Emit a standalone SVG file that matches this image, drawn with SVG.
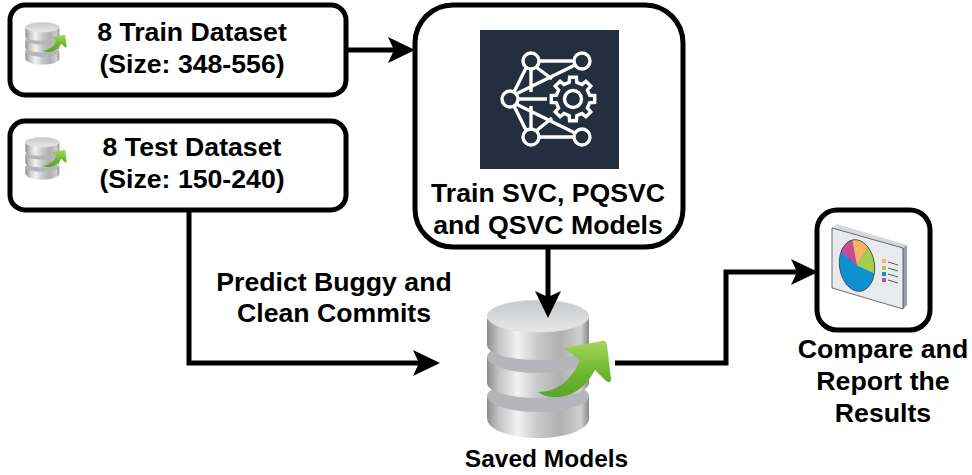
<svg xmlns="http://www.w3.org/2000/svg" width="972" height="475" viewBox="0 0 972 475">
<style>
.box{fill:#fff;stroke:#000;stroke-width:5}
.t{font-family:"Liberation Sans",Arial,sans-serif;font-weight:700;fill:#000;text-anchor:middle}
.f{font-size:26.67px}
.c{fill:none;stroke:#000;stroke-width:5}
.n{fill:none;stroke:#fff;stroke-width:3.4}
</style>
<defs>
<linearGradient id="cyl" x1="0" x2="1" y1="0" y2="0">
<stop offset="0" stop-color="#8f8f8f"/><stop offset=".12" stop-color="#c4c4c4"/><stop offset=".3" stop-color="#f2f2f2"/><stop offset=".5" stop-color="#c8c8c8"/><stop offset=".72" stop-color="#b0b0b0"/><stop offset=".92" stop-color="#cfcfcf"/><stop offset="1" stop-color="#8a8a8a"/>
</linearGradient>
<linearGradient id="grn" x1="0" x2="0" y1="0" y2="1">
<stop offset="0" stop-color="#a4d65a"/><stop offset=".6" stop-color="#6cb52f"/><stop offset="1" stop-color="#5aa52b"/>
</linearGradient>
<linearGradient id="top" x1="0" x2="0" y1="0" y2="1">
<stop offset="0" stop-color="#c6c8ca"/><stop offset="1" stop-color="#e8e8e8"/>
</linearGradient>
<clipPath id="pie"><ellipse cx="857" cy="265.500" rx="17.500" ry="26" transform="rotate(-8 857 265.500)"/></clipPath>
<symbol id="db" viewBox="0 0 144 140" preserveAspectRatio="none" overflow="visible">
<path d="M1 97V119C1 131 24 139 52 139S103 131 103 119V97Z" fill="url(#cyl)"/>
<ellipse cx="52" cy="97" rx="51" ry="16" fill="#b3b5b8"/>
<path d="M1 58V84C1 93 24 99 52 99S103 93 103 84V58Z" fill="url(#cyl)"/>
<ellipse cx="52" cy="58" rx="51" ry="16" fill="#b3b5b8"/>
<path d="M1 17V46C1 55 24 61 52 61S103 55 103 46V17Z" fill="url(#cyl)"/>
<ellipse cx="52" cy="17" rx="51" ry="16" fill="url(#top)" stroke="#e2e2e2" stroke-width="1"/>
<path d="M78 49L116 42Q120 41 121 46L125 80Q125 85 120 82L109 71C100 88 86 98 70 98C62 98 56 96 52 93C72 93 86 80 94 61Z" fill="url(#grn)"/>
</symbol>
</defs>
<g id="train-dataset">
<rect class="box" x="10" y="5" width="336" height="90" rx="15"/>
<use href="#db" x="25" y="22" width="48" height="43"/>
<text class="t f" x="192" y="41">8 Train Dataset</text>
<text class="t f" x="192" y="73">(Size: 348-556)</text>
</g>
<g id="test-dataset">
<rect class="box" x="10" y="121" width="336" height="89" rx="15"/>
<use href="#db" x="25" y="137" width="48" height="43"/>
<text class="t f" x="192" y="156">8 Test Dataset</text>
<text class="t f" x="192" y="188">(Size: 150-240)</text>
</g>
<g id="train-models">
<rect class="box" x="415" y="5" width="268" height="242" rx="38"/>
<rect x="480" y="30" width="139" height="139" fill="#232f3e"/>
<g class="n">
<circle cx="531" cy="61" r="8"/><circle cx="582" cy="61" r="8"/><circle cx="510" cy="99" r="8"/><circle cx="531" cy="137" r="8"/><circle cx="582" cy="137" r="8"/>
<path d="M539 61H574M518 99H547M526 68L514 92M531 69V92M536 67L552 79M575 65L516 94M514 106L526 130M531 106V129M536 131L552 118M575 133L516 104M539 137H574"/>
<circle cx="573" cy="99" r="8.500"/>
<path transform="translate(573 99)" d="M16.600 -3.800L21.700 -3.400L21.700 3.400L16.600 3.800L14.400 9L17.800 12.900L12.900 17.800L9 14.400L3.800 16.600L3.400 21.700L-3.400 21.700L-3.800 16.600L-9 14.400L-12.900 17.800L-17.800 12.900L-14.400 9L-16.600 3.800L-21.700 3.400L-21.700 -3.400L-16.600 -3.800L-14.400 -9L-17.800 -12.900L-12.900 -17.800L-9 -14.400L-3.800 -16.600L-3.400 -21.700L3.400 -21.700L3.800 -16.600L9 -14.400L12.900 -17.800L17.800 -12.900L14.400 -9Z"/>
</g>
<text class="t f" x="548" y="202">Train SVC, PQSVC</text>
<text class="t f" x="548" y="234">and QSVC Models</text>
</g>
<g id="saved-models">
<use href="#db" x="486" y="299" width="144" height="140"/>
<text class="t" font-size="24.500" x="546.500" y="467">Saved Models</text>
</g>
<g id="results">
<rect class="box" x="817" y="210" width="113" height="120" rx="20"/>
<path d="M832 228L837 224L907 245L903 248Z" fill="#d6d8dc"/>
<path d="M903 248L907 245V305L903 309Z" fill="#9a9fb0"/>
<path d="M832 228L903 248V309L832 288Z" fill="#e9eaee" stroke="#333" stroke-width=".7"/>
<ellipse cx="857" cy="265.500" rx="17.500" ry="26" transform="rotate(-8 857 265.500)" fill="#0f90d2"/>
<g clip-path="url(#pie)">
<path d="M857 265.500L825 237.500L847.600 214Z" fill="#c84b96"/>
<path d="M857 265.500L847.600 214L875.600 234Z" fill="#fbb25c"/>
<path d="M857 265.500L875.600 234L900 234V281H891Z" fill="#a4ce4e"/>
</g>
<ellipse cx="857" cy="265.500" rx="17.500" ry="26" transform="rotate(-8 857 265.500)" fill="none" stroke="#333" stroke-width=".7"/>
<rect x="882" y="259" width="4" height="4" fill="#fbb25c"/><rect x="882" y="266" width="4" height="4" fill="#a4ce4e"/><rect x="882" y="272" width="4" height="4" fill="#0f90d2"/><rect x="882" y="278" width="4" height="4" fill="#c84b96"/>
<path d="M888 262L898 265M888 268L898 271M888 274L898 277M888 280L898 283" stroke="#555" stroke-width="1" fill="none"/>
<text class="t f" x="883" y="358">Compare and</text>
<text class="t f" x="883" y="390">Report the</text>
<text class="t f" x="883" y="422">Results</text>
</g>
<g id="connectors">
<path class="c" d="M346 50H395"/><path d="M415 50L388 37L394 50L388 63Z"/>
<path class="c" d="M189 210V363H420"/><path d="M440 363L413 350L419 363L413 376Z"/>
<path class="c" d="M548 247V298"/><path d="M548 318L535 291L548 297L561 291Z"/>
<path class="c" d="M615 363H726V272H800"/><path d="M818 272L791 259L797 272L791 285Z"/>
<text class="t f" x="334" y="291">Predict Buggy and</text>
<text class="t f" x="334" y="322">Clean Commits</text>
</g>
</svg>
